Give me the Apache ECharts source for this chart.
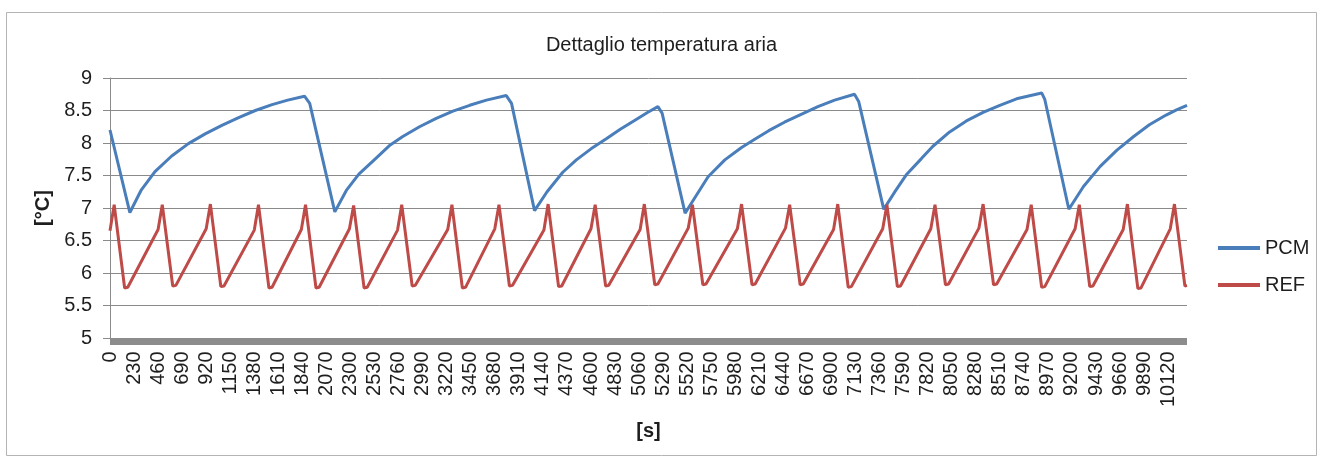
<!DOCTYPE html>
<html>
<head>
<meta charset="utf-8">
<title>Dettaglio temperatura aria</title>
<script src="https://cdn.jsdelivr.net/npm/echarts@6/dist/echarts.min.js"></script>
<style>
  html, body { margin: 0; padding: 0; background: #ffffff; }
  #chart { width: 1323px; height: 461px; }
</style>
</head>
<body>
<div id="chart"></div>
<script>
// Air temperature over time [s] for the PCM case and the reference case
const chartTitle = 'Dettaglio temperatura aria';
const xAxisName = '[s]';
const yAxisName = '[°C]';
const seriesNames = ['PCM', 'REF'];

// time axis: ticks every 230 s, last sample at 10300 s
const timeTickStep = 230;
const timeMax = 10300;

// temperature axis [°C]
const tempMin = 5;
const tempMax = 9;
const tempStep = 0.5;

// PCM: time [s] / temperature [°C]
const pcmTime = [
  0, 190, 300, 430, 590, 750, 910, 1070, 1230, 1390, 1550, 1700, 1860, 1910,
  2150, 2260, 2380, 2540, 2680, 2800, 2960, 3120, 3280, 3440, 3600, 3790, 3840,
  4060, 4180, 4330, 4460, 4600, 4750, 4880, 5040, 5140, 5240, 5280,
  5500, 5590, 5720, 5880, 6040, 6170, 6300, 6450, 6610, 6770, 6930, 7120, 7160,
  7400, 7510, 7620, 7760, 7870, 8030, 8190, 8350, 8510, 8670, 8910, 8940,
  9170, 9310, 9470, 9630, 9790, 9940, 10100, 10200, 10300
];
const pcmTemp = [
  8.20, 6.93, 7.28, 7.56, 7.80, 7.99, 8.14, 8.27, 8.39, 8.50, 8.59, 8.66, 8.72, 8.61,
  6.94, 7.27, 7.52, 7.76, 7.97, 8.10, 8.25, 8.38, 8.49, 8.58, 8.66, 8.73, 8.61,
  6.96, 7.25, 7.55, 7.74, 7.91, 8.07, 8.21, 8.37, 8.47, 8.56, 8.46,
  6.92, 7.15, 7.48, 7.74, 7.93, 8.06, 8.19, 8.32, 8.44, 8.56, 8.66, 8.75, 8.64,
  6.98, 7.26, 7.52, 7.76, 7.95, 8.17, 8.34, 8.47, 8.58, 8.68, 8.77, 8.67,
  6.98, 7.33, 7.64, 7.89, 8.10, 8.28, 8.43, 8.51, 8.58
];

// REF: time [s] / temperature [°C]
const refTime = [
  0, 40, 140, 170,
  460, 500, 600, 630,
  920, 960, 1060, 1090,
  1380, 1420, 1520, 1550,
  1830, 1870, 1970, 2000,
  2290, 2330, 2430, 2460,
  2750, 2790, 2890, 2920,
  3230, 3270, 3370, 3400,
  3680, 3720, 3820, 3850,
  4150, 4190, 4290, 4320,
  4600, 4640, 4740, 4770,
  5070, 5110, 5210, 5240,
  5530, 5570, 5670, 5700,
  6000, 6040, 6140, 6170,
  6460, 6500, 6600, 6630,
  6920, 6960, 7060, 7090,
  7390, 7430, 7530, 7560,
  7850, 7890, 7990, 8020,
  8310, 8350, 8450, 8480,
  8770, 8810, 8910, 8940,
  9230, 9270, 9370, 9400,
  9690, 9730, 9830, 9860,
  10140, 10180, 10280, 10300
];
const refTemp = [
  6.65, 7.05, 5.77, 5.78,
  6.67, 7.05, 5.80, 5.81,
  6.68, 7.06, 5.79, 5.80,
  6.66, 7.05, 5.77, 5.78,
  6.67, 7.05, 5.77, 5.78,
  6.68, 7.04, 5.77, 5.78,
  6.66, 7.05, 5.80, 5.81,
  6.67, 7.05, 5.77, 5.78,
  6.68, 7.05, 5.80, 5.81,
  6.66, 7.06, 5.79, 5.80,
  6.68, 7.05, 5.80, 5.81,
  6.67, 7.06, 5.82, 5.83,
  6.69, 7.05, 5.82, 5.83,
  6.68, 7.06, 5.82, 5.83,
  6.69, 7.05, 5.82, 5.83,
  6.67, 7.06, 5.78, 5.79,
  6.68, 7.05, 5.79, 5.80,
  6.68, 7.05, 5.82, 5.83,
  6.69, 7.06, 5.82, 5.83,
  6.67, 7.05, 5.78, 5.79,
  6.68, 7.05, 5.79, 5.80,
  6.67, 7.06, 5.76, 5.77,
  6.68, 7.06, 5.80, 5.81
];

const pairs = (xs, ys) => xs.map((x, i) => [x, ys[i]]);

const FONT = '"Liberation Sans", Arial, sans-serif';
const GRID_GREY = '#8a8a8a';
const TEXT = '#1e1e1e';
const PCM_BLUE = '#4A7EBB';
const REF_RED = '#BE4B48';

const chart = echarts.init(document.getElementById('chart'), null, { renderer: 'canvas' });

chart.setOption({
  animation: false,
  backgroundColor: '#ffffff',
  textStyle: { fontFamily: FONT },
  graphic: [{
    type: 'rect',
    silent: true,
    shape: { x: 6.5, y: 12.5, width: 1310, height: 443 },
    style: { fill: 'none', stroke: '#b4b4b4', lineWidth: 1 }
  }],
  title: {
    text: chartTitle,
    left: 'center',
    top: 30,
    textStyle: { fontFamily: FONT, fontSize: 20, fontWeight: 'normal', color: TEXT }
  },
  legend: {
    orient: 'vertical',
    left: 1213,
    top: 233,
    icon: 'rect',
    itemWidth: 42,
    itemHeight: 4,
    itemGap: 17,
    data: seriesNames,
    textStyle: { fontFamily: FONT, fontSize: 20, color: TEXT, lineHeight: 20 }
  },
  grid: { left: 110, right: 136, top: 78, bottom: 123, containLabel: false },
  xAxis: {
    type: 'value',
    min: 0,
    max: timeMax,
    interval: timeTickStep,
    offset: 3.5,
    name: xAxisName,
    nameLocation: 'middle',
    nameGap: 80,
    nameTextStyle: { fontFamily: FONT, fontSize: 20, fontWeight: 'bold', color: TEXT },
    axisLine: { show: true, lineStyle: { color: '#8c8c8c', width: 7, cap: 'butt' } },
    axisTick: { show: false },
    splitLine: { show: false },
    axisLabel: {
      rotate: 90,
      margin: 10,
      showMaxLabel: false,
      fontFamily: FONT,
      fontSize: 20,
      color: TEXT,
      formatter: v => (v % timeTickStep === 0 ? String(v) : '')
    }
  },
  yAxis: {
    type: 'value',
    min: tempMin,
    max: tempMax,
    interval: tempStep,
    name: yAxisName,
    nameLocation: 'middle',
    nameRotate: 90,
    nameGap: 55,
    nameTextStyle: { fontFamily: FONT, fontSize: 20, fontWeight: 'bold', color: TEXT },
    axisLine: { show: true, lineStyle: { color: GRID_GREY, width: 1 } },
    axisTick: { show: true, length: 7, lineStyle: { color: GRID_GREY, width: 1 } },
    splitLine: { show: true, lineStyle: { color: GRID_GREY, width: 1 } },
    axisLabel: { margin: 18, fontFamily: FONT, fontSize: 20, color: TEXT }
  },
  series: [
    {
      name: seriesNames[0],
      type: 'line',
      data: pairs(pcmTime, pcmTemp),
      symbol: 'none',
      showSymbol: false,
      lineStyle: { color: PCM_BLUE, width: 3 },
      itemStyle: { color: PCM_BLUE },
      z: 2
    },
    {
      name: seriesNames[1],
      type: 'line',
      data: pairs(refTime, refTemp),
      symbol: 'none',
      showSymbol: false,
      lineStyle: { color: REF_RED, width: 3 },
      itemStyle: { color: REF_RED },
      z: 3
    }
  ]
});
</script>
</body>
</html>
